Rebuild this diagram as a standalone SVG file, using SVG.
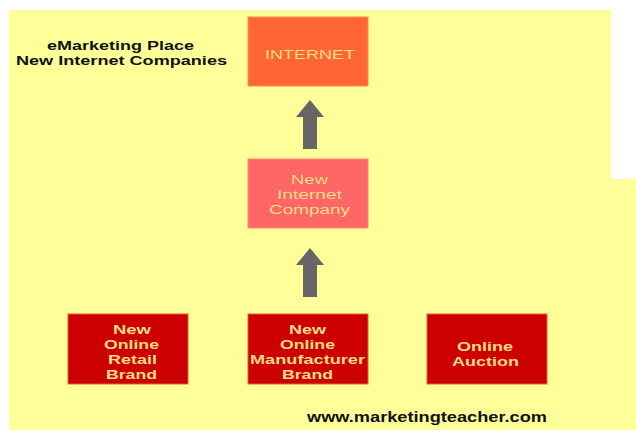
<svg xmlns="http://www.w3.org/2000/svg" xmlns:xlink="http://www.w3.org/1999/xlink" width="636" height="430" viewBox="0 0 636 430">
<style>
.box{stroke-width:1}
.t{font-family:"Liberation Sans",Arial,sans-serif;font-weight:bold;font-size:13px;fill:#FFDD88;text-anchor:middle}
.n{font-weight:normal}
.h{font-family:"Liberation Sans",Arial,sans-serif;font-weight:bold;font-size:13px;fill:#111;text-anchor:middle}
.arrow{fill:#666666}
</style>
<defs>
<path id="up" class="arrow" d="M0,0 L14,17 L7,17 L7,49 L-7,49 L-7,17 L-14,17 Z"/>
</defs>
<rect width="636" height="430" fill="#FFFFFF"/>
<path d="M9,10 H611 V179 H636 V430 H9 Z" fill="#FFFF99"/>
<g id="title">
<text class="h" x="120.5" y="50" textLength="147" lengthAdjust="spacingAndGlyphs">eMarketing Place</text>
<text class="h" x="121.5" y="65" textLength="211" lengthAdjust="spacingAndGlyphs">New Internet Companies</text>
</g>
<g id="connectors">
<use xlink:href="#up" x="310" y="100"/>
<use xlink:href="#up" x="310" y="248"/>
</g>
<g id="internet">
<rect class="box" x="248" y="17" width="120" height="69" fill="#FF6633" stroke="#FF8855"/>
<text class="t n" x="310" y="59" textLength="90" lengthAdjust="spacingAndGlyphs">INTERNET</text>
</g>
<g id="new-internet-company">
<rect class="box" x="248" y="159" width="120" height="69" fill="#FF6666" stroke="#FF8877"/>
<text class="t n" x="309.5" y="184" textLength="37" lengthAdjust="spacingAndGlyphs">New</text>
<text class="t n" x="309.5" y="199" textLength="65" lengthAdjust="spacingAndGlyphs">Internet</text>
<text class="t n" x="309.5" y="214" textLength="81" lengthAdjust="spacingAndGlyphs">Company</text>
</g>
<g id="retail-brand">
<rect class="box" x="68" y="314" width="120" height="70" fill="#CC0000" stroke="#E06030"/>
<text class="t" x="132" y="334" textLength="38" lengthAdjust="spacingAndGlyphs">New</text>
<text class="t" x="131.5" y="349" textLength="55" lengthAdjust="spacingAndGlyphs">Online</text>
<text class="t" x="132.5" y="364" textLength="49" lengthAdjust="spacingAndGlyphs">Retail</text>
<text class="t" x="131.5" y="379" textLength="51" lengthAdjust="spacingAndGlyphs">Brand</text>
</g>
<g id="manufacturer-brand">
<rect class="box" x="248" y="314" width="120" height="70" fill="#CC0000" stroke="#E06030"/>
<text class="t" x="307.5" y="334" textLength="37" lengthAdjust="spacingAndGlyphs">New</text>
<text class="t" x="307.5" y="349" textLength="55" lengthAdjust="spacingAndGlyphs">Online</text>
<text class="t" x="307.5" y="364" textLength="115" lengthAdjust="spacingAndGlyphs">Manufacturer</text>
<text class="t" x="307.5" y="379" textLength="51" lengthAdjust="spacingAndGlyphs">Brand</text>
</g>
<g id="online-auction">
<rect class="box" x="427" y="314" width="120" height="70" fill="#CC0000" stroke="#E06030"/>
<text class="t" x="485" y="351" textLength="56" lengthAdjust="spacingAndGlyphs">Online</text>
<text class="t" x="485.5" y="366" textLength="67" lengthAdjust="spacingAndGlyphs">Auction</text>
</g>
<g id="url">
<text class="h" x="427" y="422" style="font-size:14px" textLength="240" lengthAdjust="spacingAndGlyphs">www.marketingteacher.com</text>
</g>
</svg>
